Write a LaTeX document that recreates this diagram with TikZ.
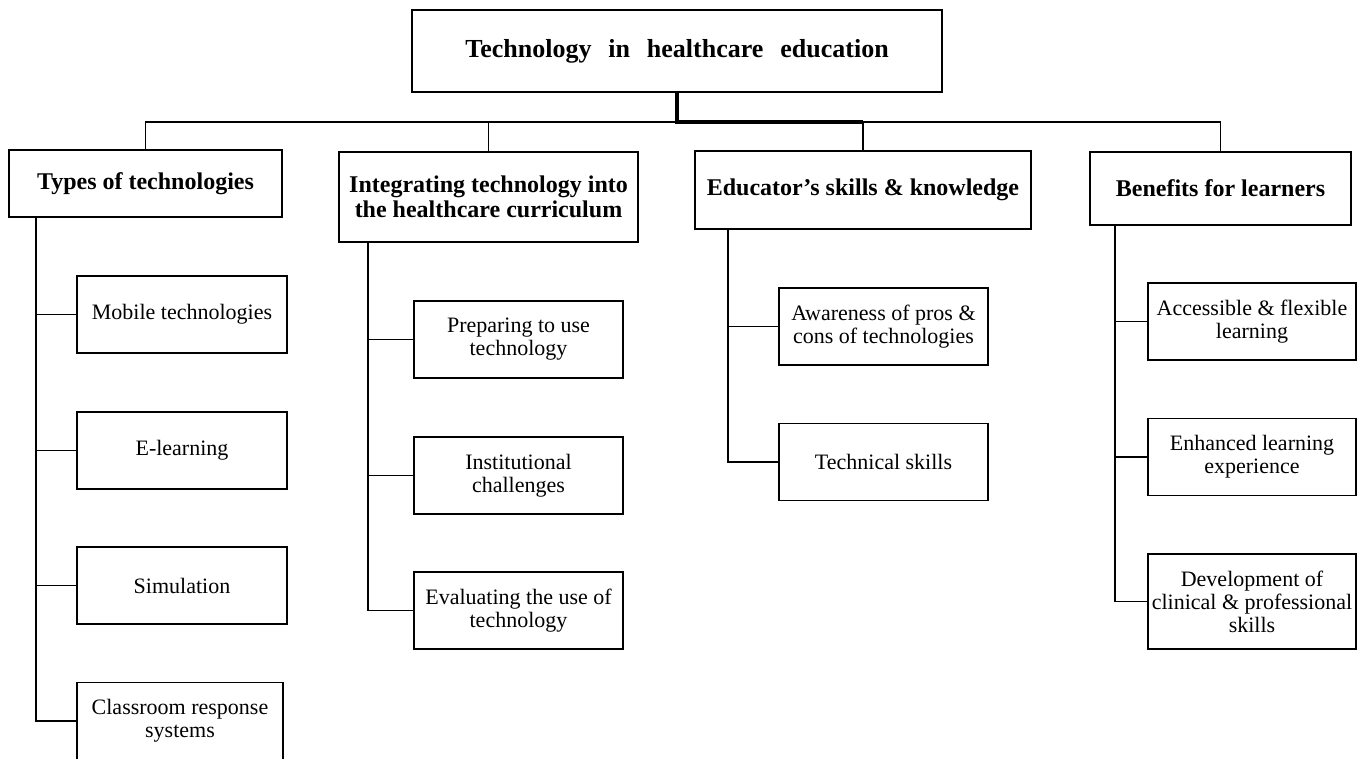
\documentclass[tikz,border=0pt]{standalone}
\usepackage{fontspec}
\setmainfont{Liberation Serif}

\begin{document}
\begin{tikzpicture}[x=1pt, y=-1pt,
    box/.style={draw, line width=1.8pt, inner sep=0pt, align=center},
    toptitle/.style={box, font=\fontsize{26}{28}\selectfont\bfseries},
    headbox/.style={box, font=\fontsize{24}{25}\selectfont\bfseries},
    itembox/.style={box, font=\fontsize{22}{23}\selectfont, minimum width=209pt, minimum height=77pt},
    link/.style={line width=1.6pt},
    trunk/.style={line width=3.2pt}]
        \path[fill=white, use as bounding box] (0,0) rectangle (1357,758);

        \node[toptitle, minimum width=530pt, minimum height=82pt] (root) at (677,51) {Technology\hspace{.65em}in\hspace{.65em}healthcare\hspace{.65em}education};
        \coordinate (bar) at (678,122);

        \node[headbox, minimum width=273pt, minimum height=67pt] (types) at (145.5,183.5) {Types of technologies};
        \node[headbox, minimum width=299pt, minimum height=90pt] (integ) at (488.5,197) {Integrating technology into\\the healthcare curriculum};
        \node[headbox, minimum width=336pt, minimum height=78pt] (educ) at (863,190) {Educator’s skills \& knowledge};
        \node[headbox, minimum width=261pt, minimum height=73pt] (bene) at (1220.5,188.5) {Benefits for learners};

        \node[itembox, minimum width=210pt] (mobile) at (182,314.5) {Mobile technologies};
        \node[itembox, minimum width=210pt] (elearn) at (182,450.5) {E-learning};
        \node[itembox, minimum width=210pt] (sim) at (182,585.5) {Simulation};
        \node[itembox, minimum width=206pt] (crs) at (180,721) {Classroom response\\systems};

        \node[itembox] (prep) at (518.5,339.5) {Preparing to use\\technology};
        \node[itembox] (inst) at (518.5,475.5) {Institutional\\challenges};
        \node[itembox] (eval) at (518.5,610.5) {Evaluating the use of\\technology};

        \node[itembox] (aware) at (883.5,326.5) {Awareness of pros \&\\cons of technologies};
        \node[itembox] (techsk) at (883.5,462) {Technical skills};

        \node[itembox, minimum width=208pt] (access) at (1252,321.5) {Accessible \& flexible\\learning};
        \node[itembox, minimum width=208pt] (enh) at (1252,457) {Enhanced learning\\experience};
        \node[itembox, minimum width=208pt, minimum height=95pt] (devel) at (1252,601.5) {Development of\\clinical \& professional\\skills};

        % top level
        \draw[trunk] (root.south) |- (educ.north |- bar);
        \draw[link] (types.north) |- (bene.north |- bar) -- (bene.north);
        \draw[link] (integ.north) -- (integ.north |- bar);
        \draw[link] (educ.north) -- (educ.north |- bar);

        % spines down the left of each column
        \coordinate (ts) at ([xshift=28pt]types.south west);
        \draw[link] (ts) |- (crs.west);
        \foreach \n in {mobile,elearn,sim}
            \draw[link] (\n.west) -- (\n.west -| ts);

        \coordinate (is) at ([xshift=30pt]integ.south west);
        \draw[link] (is) |- (eval.west);
        \foreach \n in {prep,inst}
            \draw[link] (\n.west) -- (\n.west -| is);

        \coordinate (es) at ([xshift=34pt]educ.south west);
        \draw[link] (es) |- (techsk.west);
        \draw[link] (aware.west) -- (aware.west -| es);

        \coordinate (bs) at ([xshift=26pt]bene.south west);
        \draw[link] (bs) |- (devel.west);
        \foreach \n in {access,enh}
            \draw[link] (\n.west) -- (\n.west -| bs);
    \end{tikzpicture}
\end{document}
